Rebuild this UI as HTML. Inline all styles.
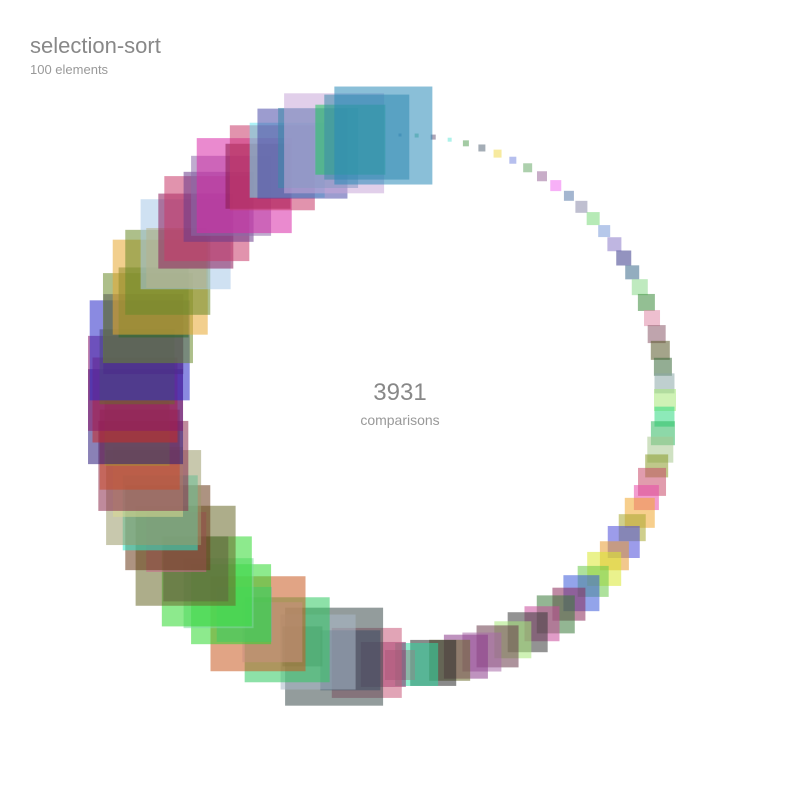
<!DOCTYPE html>
<html><head><meta charset="utf-8"><style>
body{margin:0;background:#fff;font-family:"Liberation Sans",sans-serif}
svg{display:block}
</style></head><body>
<svg id="chart" width="800" height="800">
<text x="30" y="53" font-size="22" fill="#888">selection-sort</text>
<text x="30" y="74" font-size="13" fill="#999">100 elements</text>
<g id="marks"></g>
<text x="400" y="400" font-size="24" fill="#888" text-anchor="middle">3931</text>
<text x="400" y="425" font-size="14" fill="#999" text-anchor="middle">comparisons</text>
</svg>
<script>
const sizes=[3,4,5,4,6,7,8,7,9,10,11,10,12,13,12,14,15,14,16,17,16,18,19,18,20,
22,20,24,26,23,28,25,30,27,32,29,34,31,36,33,38,35,40,37,42,39,44,41,46,43,
30,45,70,60,98,75,40,85,60,95,55,80,70,90,65,100,60,85,75,95,70,90,80,65,95,
85,95,75,100,80,90,70,95,85,60,90,75,85,70,80,95,65,85,75,90,80,100,70,85,98];
const colors=["#4a6fa5","#5fbf8f","#6a5a7a","#6ae8d8","#5aa05a","#5a6a7a","#f0d850","#7a8ae0","#6aaa6a","#9a6a9a","#f070f0","#5a7aaa","#8a8aaa","#7ad87a","#7a9ad8","#8a7ac8","#3a3a8a","#3a6a8a","#8ad88a","#3a8a3a","#e08aa8","#8a5a6a","#5a5a2a","#3a6a3a","#8aa8a8","#a8e878","#30d880","#30b860","#a8c890","#8a9a2a","#c84a6a","#e84aa8","#f0a830","#a8a830","#4a4ad8","#e89a30","#d8e830","#6ac84a","#3a5ad8","#8a2a5a","#3a7a3a","#c84a9a","#3a3a3a","#a8e87a","#6a3a4a","#a86aa8","#8a3a8a","#6a6a2a","#2a2a2a","#30d8a0","#8a8a8a","#8a2a6a","#c85a7a","#3a5a8a","#3a4a4a","#aab8c8","#6a7a7a","#30c860","#c8d0f0","#c85a20","#5ab8a8","#30d830","#80d8a0","#30d830","#5a5a5a","#6a6a2a","#c86a8a","#6a3a1a","#30e8c8","#9a9a6a","#d8d890","#8a2a4a","#c84a2a","#a89a30","#2a1a7a","#c82a2a","#8a1a6a","#6a6a2a","#2a2ac8","#4a2a8a","#6a8a2a","#2a6a2a","#e8a830","#6a8a2a","#c89a20","#a8c8e8","#8a1a5a","#c83a6a","#6a3a8a","#8a6aa8","#d82aa8","#8a1a4a","#c83a6a","#6ae8f0","#4a4aa8","#3a8aaa","#c8a8d8","#20c860","#3a8aaa","#2a8ab8"];
const g=document.getElementById('marks');
const cx=400,cy=400,R=265;
function angle(i){return -Math.PI/2+i/sizes.length*2*Math.PI;}
function px(i){return cx+R*Math.cos(angle(i));}
function py(i){return cy+R*Math.sin(angle(i));}
for(let i=0;i<sizes.length;i++){
  const s=sizes[i];
  const r=document.createElementNS('http://www.w3.org/2000/svg','rect');
  r.setAttribute('x',px(i)-s/2);r.setAttribute('y',py(i)-s/2);
  r.setAttribute('width',s);r.setAttribute('height',s);
  r.setAttribute('fill',colors[i%colors.length]);r.setAttribute('fill-opacity','0.55');
  
  
  g.appendChild(r);
}
</script>
</body></html>
